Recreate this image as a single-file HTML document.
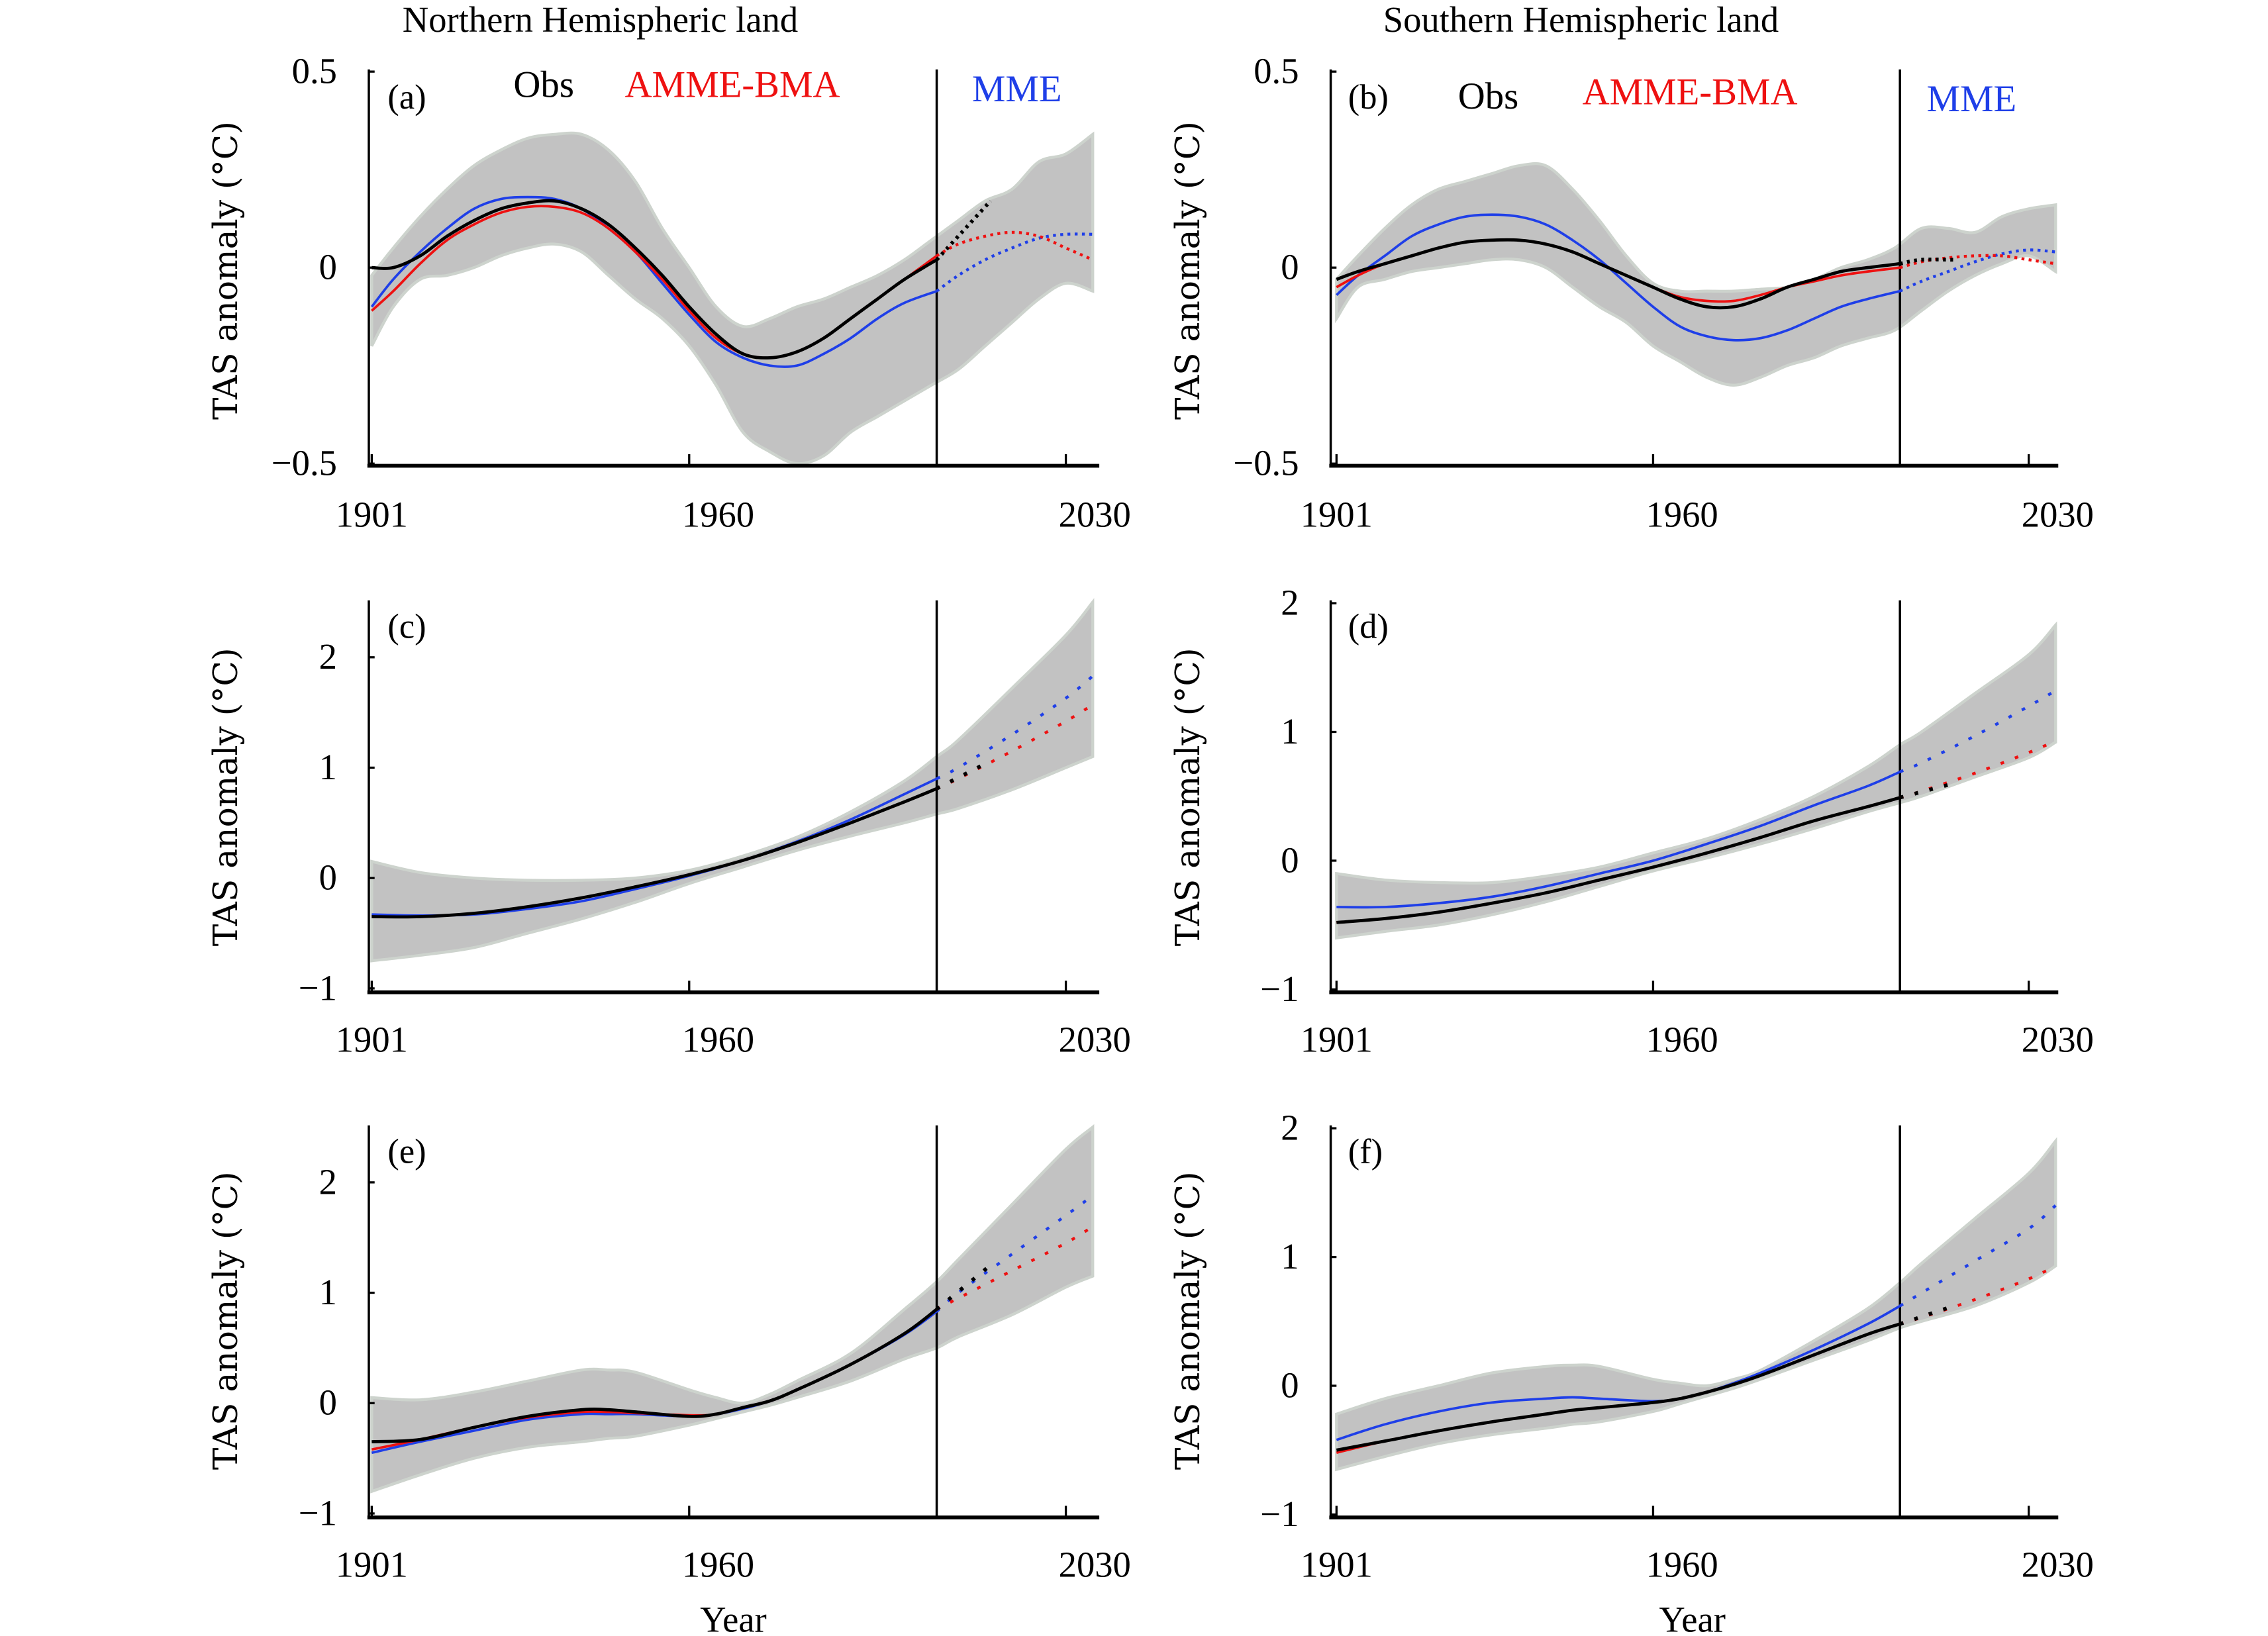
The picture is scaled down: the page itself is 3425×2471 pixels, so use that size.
<!DOCTYPE html>
<html><head><meta charset="utf-8"><style>
html,body{margin:0;padding:0;background:#fff}
svg{display:block}
text{font-family:"Liberation Serif","DejaVu Serif",serif}
</style></head><body>
<svg id="fig" xmlns="http://www.w3.org/2000/svg" width="3425" height="2471" viewBox="0 0 1568 1131" preserveAspectRatio="none">
<text x="415" y="22" font-size="25" text-anchor="middle">Northern Hemispheric land</text>
<text x="1093" y="22" font-size="25" text-anchor="middle">Southern Hemispheric land</text>
<text x="507" y="1128" font-size="25" text-anchor="middle">Year</text>
<text x="1170" y="1128" font-size="25" text-anchor="middle">Year</text>
<g id="plots"></g>
</svg>
<script>
// ---- data (panel a) ----
const aYears=[1901,1905,1910,1915,1920,1925,1930,1935,1940,1945,1950,1955,1960,1965,1970,1975,1980,1985,1990,1995,2000,2006,2010,2015,2020,2025,2030,2035];
const aObsYears=[1901,1905,1910,1915,1920,1925,1930,1935,1940,1945,1950,1955,1960,1965,1970,1975,1980,1985,1990,1995,2000,2006,2010,2016];
const aObs=[0,0,0.03,0.08,0.12,0.15,0.165,0.17,0.15,0.11,0.05,-0.02,-0.1,-0.17,-0.22,-0.23,-0.215,-0.18,-0.13,-0.08,-0.03,0.02,0.08,0.17];
const aBma=[-0.11,-0.06,0.01,0.07,0.11,0.14,0.155,0.155,0.14,0.1,0.04,-0.03,-0.11,-0.18,-0.22,-0.23,-0.215,-0.18,-0.13,-0.08,-0.03,0.03,0.06,0.08,0.09,0.08,0.05,0.02];
const aMme=[-0.1,-0.03,0.04,0.1,0.15,0.175,0.18,0.175,0.15,0.1,0.04,-0.04,-0.12,-0.19,-0.23,-0.25,-0.25,-0.22,-0.18,-0.13,-0.09,-0.06,-0.02,0.02,0.05,0.075,0.085,0.085];
const aBandYears=[1901,1905,1910,1915,1920,1925,1930,1935,1940,1945,1950,1955,1960,1965,1970,1975,1980,1985,1990,1995,2000,2005,2010,2015,2020,2025,2030,2035];
const aUpper=[-0.02,0.05,0.13,0.2,0.26,0.3,0.33,0.34,0.34,0.3,0.22,0.1,0,-0.1,-0.15,-0.13,-0.1,-0.08,-0.05,-0.02,0.02,0.07,0.12,0.17,0.2,0.27,0.29,0.34];
const aLower=[-0.2,-0.1,-0.03,-0.02,0,0.03,0.05,0.06,0.04,-0.02,-0.08,-0.13,-0.2,-0.3,-0.42,-0.47,-0.5,-0.48,-0.42,-0.38,-0.34,-0.3,-0.26,-0.2,-0.14,-0.08,-0.04,-0.06];
// ---- data (panel b) ----
const bObs=[-0.03,-0.01,0.01,0.03,0.05,0.065,0.07,0.07,0.06,0.04,0.01,-0.02,-0.05,-0.08,-0.1,-0.1,-0.08,-0.05,-0.03,-0.01,0,0.01,0.02,0.02];
const bBma=[-0.05,-0.02,0.01,0.03,0.05,0.065,0.07,0.07,0.06,0.04,0.01,-0.02,-0.05,-0.075,-0.085,-0.085,-0.07,-0.05,-0.035,-0.02,-0.01,0,0.015,0.025,0.03,0.03,0.02,0.01];
const bMme=[-0.07,-0.02,0.03,0.08,0.11,0.13,0.135,0.13,0.11,0.07,0.02,-0.04,-0.1,-0.15,-0.175,-0.185,-0.18,-0.16,-0.13,-0.1,-0.08,-0.06,-0.035,-0.01,0.015,0.035,0.045,0.04];
const bUpper=[-0.03,0.03,0.1,0.16,0.2,0.22,0.24,0.26,0.26,0.2,0.12,0.03,-0.04,-0.06,-0.06,-0.06,-0.055,-0.05,-0.03,0,0.02,0.05,0.1,0.1,0.09,0.13,0.15,0.16];
const bLower=[-0.13,-0.05,-0.03,-0.01,0,0.01,0.02,0.02,0,-0.05,-0.1,-0.14,-0.2,-0.24,-0.28,-0.3,-0.28,-0.25,-0.23,-0.2,-0.18,-0.16,-0.11,-0.06,-0.02,0.01,0.03,-0.01];
// ---- data (panels c-f) ----
const cYears=[1901,1910,1920,1930,1940,1950,1960,1970,1980,1990,2000,2006,2010,2020,2030,2035];
const cObsYears=[1901,1910,1920,1930,1940,1950,1960,1970,1980,1990,2000,2006,2016];
const cObs=[-0.35,-0.35,-0.32,-0.26,-0.18,-0.08,0.03,0.16,0.32,0.5,0.69,0.81,1.06];
const cBma=[-0.35,-0.35,-0.32,-0.26,-0.18,-0.08,0.03,0.16,0.32,0.5,0.69,0.81,0.9,1.15,1.42,1.57];
const cMme=[-0.33,-0.34,-0.33,-0.28,-0.21,-0.1,0.02,0.16,0.33,0.53,0.76,0.9,1.0,1.3,1.63,1.83];
const cUpper=[0.15,0.05,0,-0.02,-0.02,0,0.07,0.2,0.37,0.6,0.88,1.1,1.25,1.72,2.2,2.5];
const cLower=[-0.75,-0.7,-0.63,-0.5,-0.37,-0.22,-0.05,0.1,0.25,0.38,0.5,0.58,0.63,0.8,1.0,1.1];
const dObs=[-0.48,-0.45,-0.4,-0.33,-0.25,-0.15,-0.05,0.06,0.18,0.31,0.42,0.49,0.6];
const dBma=[-0.48,-0.45,-0.4,-0.33,-0.25,-0.15,-0.05,0.06,0.18,0.31,0.42,0.49,0.54,0.68,0.84,0.93];
const dMme=[-0.36,-0.36,-0.33,-0.28,-0.2,-0.1,0,0.13,0.27,0.43,0.58,0.69,0.76,0.97,1.2,1.32];
const dUpper=[-0.1,-0.15,-0.17,-0.17,-0.12,-0.05,0.06,0.17,0.32,0.5,0.73,0.9,1.0,1.3,1.6,1.83];
const dLower=[-0.6,-0.55,-0.5,-0.42,-0.32,-0.2,-0.08,0.02,0.13,0.25,0.38,0.45,0.5,0.65,0.8,0.92];
const eYears=[1901,1910,1920,1930,1940,1945,1950,1960,1965,1970,1975,1980,1990,2000,2006,2010,2020,2030,2035];
const eObsYears=[1901,1910,1920,1930,1940,1945,1950,1960,1965,1970,1975,1980,1990,2000,2006,2016];
const eObs=[-0.35,-0.33,-0.22,-0.12,-0.06,-0.06,-0.08,-0.12,-0.1,-0.04,0.02,0.12,0.35,0.63,0.85,1.25];
const eBma=[-0.42,-0.33,-0.22,-0.13,-0.08,-0.08,-0.09,-0.11,-0.1,-0.04,0.02,0.12,0.35,0.63,0.85,0.95,1.2,1.45,1.6];
const eMme=[-0.45,-0.35,-0.25,-0.15,-0.1,-0.1,-0.1,-0.12,-0.1,-0.05,0.02,0.12,0.35,0.62,0.83,1.0,1.35,1.7,1.88];
const eUpper=[0.05,0.03,0.1,0.2,0.3,0.3,0.28,0.12,0.05,0,0.08,0.2,0.45,0.85,1.1,1.3,1.8,2.3,2.5];
const eLower=[-0.8,-0.65,-0.5,-0.4,-0.35,-0.32,-0.3,-0.2,-0.14,-0.08,-0.02,0.05,0.2,0.4,0.5,0.6,0.8,1.05,1.15];
const fObs=[-0.5,-0.43,-0.35,-0.28,-0.22,-0.19,-0.17,-0.13,-0.1,-0.05,0.01,0.08,0.24,0.4,0.48,0.62];
const fBma=[-0.52,-0.43,-0.35,-0.28,-0.22,-0.19,-0.17,-0.13,-0.1,-0.05,0.01,0.08,0.24,0.4,0.48,0.53,0.67,0.83,0.93];
const fMme=[-0.42,-0.3,-0.2,-0.13,-0.1,-0.09,-0.1,-0.12,-0.1,-0.05,0.02,0.1,0.28,0.48,0.62,0.72,0.97,1.22,1.4];
const fUpper=[-0.22,-0.1,0,0.1,0.15,0.16,0.15,0.05,0.02,0,0.05,0.12,0.35,0.6,0.8,0.95,1.3,1.65,1.9];
const fLower=[-0.65,-0.55,-0.45,-0.38,-0.33,-0.3,-0.28,-0.2,-0.14,-0.08,-0.02,0.05,0.2,0.35,0.45,0.5,0.62,0.8,0.93];
const xTickYears=[1901,1960,2030];
const abTicks=[0.5,0,-0.5];const abTickLabels=["0.5","0","\u22120.5"];
const cdTicks=[2,1,0,-1];const cdTickLabels=["2","1","0","\u22121"];
const splitYear=2006;

const NS="http://www.w3.org/2000/svg";
const root=document.getElementById('plots');
function mk(tag,attrs,parent){const e=document.createElementNS(NS,tag);for(const k in attrs)e.setAttribute(k,attrs[k]);(parent||root).appendChild(e);return e;}
function smooth(pts,start){if(!pts.length)return '';let d=(start||'M')+pts[0][0].toFixed(2)+','+pts[0][1].toFixed(2);
 for(let i=0;i<pts.length-1;i++){const p0=pts[Math.max(0,i-1)],p1=pts[i],p2=pts[i+1],p3=pts[Math.min(pts.length-1,i+2)];
  const c1=[p1[0]+(p2[0]-p0[0])/6,p1[1]+(p2[1]-p0[1])/6],c2=[p2[0]-(p3[0]-p1[0])/6,p2[1]-(p3[1]-p1[1])/6];
  d+=' C'+c1.map(v=>v.toFixed(2))+' '+c2.map(v=>v.toFixed(2))+' '+p2[0].toFixed(2)+','+p2[1].toFixed(2);}
 return d;}

const panels=[
 {id:'a',L:255,R:760,x0:257,ppy:3.72,top:48,bot:322,y0:185,ppu:271,ticks:abTicks,tl:abTickLabels,yr:aYears,oy:aObsYears,obs:aObs,bma:aBma,mme:aMme,by:aBandYears,up:aUpper,lo:aLower,xl:355,yl:187,lab:[268,75],legend:[[355,67],[432,67],[672,70]]},
 {id:'b',L:920,R:1423,x0:924,ppy:3.71,top:48,bot:322,y0:185,ppu:271,ticks:abTicks,tl:abTickLabels,yr:aYears,oy:aObsYears,obs:bObs,bma:bBma,mme:bMme,by:aBandYears,up:bUpper,lo:bLower,xl:355,yl:187,lab:[932,75],legend:[[1008,75],[1094,72],[1332,77]]},
 {id:'c',L:255,R:760,x0:257,ppy:3.72,top:415,bot:686,y0:607,ppu:76.3,ticks:cdTicks,tl:cdTickLabels,yr:cYears,oy:cObsYears,obs:cObs,bma:cBma,mme:cMme,by:cYears,up:cUpper,lo:cLower,xl:718,yl:551,lab:[268,441]},
 {id:'d',L:920,R:1423,x0:924,ppy:3.71,top:415,bot:686,y0:595,ppu:89,ticks:cdTicks,tl:cdTickLabels,yr:cYears,oy:cObsYears,obs:dObs,bma:dBma,mme:dMme,by:cYears,up:dUpper,lo:dLower,xl:718,yl:551,lab:[932,441]},
 {id:'e',L:255,R:760,x0:257,ppy:3.72,top:778,bot:1049,y0:970,ppu:76.3,ticks:cdTicks,tl:cdTickLabels,yr:eYears,oy:eObsYears,obs:eObs,bma:eBma,mme:eMme,by:eYears,up:eUpper,lo:eLower,xl:1081,yl:913,lab:[268,804]},
 {id:'f',L:920,R:1423,x0:924,ppy:3.71,top:778,bot:1049,y0:958,ppu:89,ticks:cdTicks,tl:cdTickLabels,yr:eYears,oy:eObsYears,obs:fObs,bma:fBma,mme:fMme,by:eYears,up:fUpper,lo:fLower,xl:1081,yl:913,lab:[932,804]}
];

panels.forEach(p=>{
 const xs=y=>p.x0+(y-1901)*p.ppy, ys=v=>p.y0-v*p.ppu;
 const g=mk('g',{});
 
 
 const up=p.by.map((y,i)=>[xs(y),ys(p.up[i])]);
 const lo=p.by.map((y,i)=>[xs(y),ys(p.lo[i])]).reverse();
 const band=mk('path',{d:smooth(up)+' '+smooth(lo,'L')+' Z',fill:'#c2c2c2',stroke:'#cdd3cd','stroke-width':2},g);
 
 
 const vl=mk('line',{x1:xs(splitYear),x2:xs(splitYear),y1:p.top,y2:p.bot,stroke:'#000','stroke-width':1.6},g);
 
 
 const series=[['mme',p.yr,p.mme,'#1f3fe8'],['bma',p.yr,p.bma,'#ee1111'],['obs',p.oy,p.obs,'#000']];
 series.forEach(([nm,yrs,vals,col])=>{
  const pts=yrs.map((y,i)=>[y,vals[i]]);
  const solid=pts.filter(q=>q[0]<=splitYear).map(q=>[xs(q[0]),ys(q[1])]);
  const dot=pts.filter(q=>q[0]>=splitYear).map(q=>[xs(q[0]),ys(q[1])]);
  const s=mk('path',{d:smooth(solid),fill:'none',stroke:col,'stroke-width':nm==='obs'?2.2:1.7},g);
  
  
  const d=mk('path',{d:smooth(dot),fill:'none',stroke:col,'stroke-width':nm==='obs'?2.6:2,'stroke-dasharray':p.id<'c'?'2 3':'2.5 8'},g);
  
  
 });
 const ya=mk('line',{x1:p.L,x2:p.L,y1:p.top,y2:p.bot,stroke:'#000','stroke-width':1.6},g);
 
 
 const xa=mk('line',{x1:p.L-1,x2:p.R,y1:p.bot,y2:p.bot,stroke:'#000','stroke-width':2.6},g);
 
 
 xTickYears.forEach(y=>{
  const t=mk('line',{x1:xs(y),x2:xs(y),y1:p.bot,y2:p.bot-8,stroke:'#000','stroke-width':1.5},g);
  
  
  const off=y===1901?0:20;
  const tx=mk('text',{x:xs(y)+off,y:p.xl+9,'font-size':25,'text-anchor':'middle'},g);
  tx.textContent=String(y);
  
  
 });
 p.ticks.forEach((v,i)=>{
  const t=mk('line',{x1:p.L,x2:p.L+4,y1:ys(v),y2:ys(v),stroke:'#000','stroke-width':1.5},g);
  
  
  const tx=mk('text',{x:p.L-22,y:ys(v)+8,'font-size':25,'text-anchor':'end'},g);
  tx.textContent=p.tl[i];
  
  
 });
 const yt=mk('text',{x:0,y:0,'font-size':23,'text-anchor':'middle',transform:`translate(${p.L-91},${p.yl}) rotate(-90)`,style:'font-family:"DejaVu Serif",serif'},g);
 yt.textContent='TAS anomaly (\u00B0C)';
 
 
 const lb=mk('text',{x:p.lab[0],y:p.lab[1],'font-size':24},g);
 lb.textContent='('+p.id+')';
 
 
 if(p.legend){
  [['Obs','#000'],['AMME-BMA','#ee1111'],['MME','#1f3fe8']].forEach(([t,c],i)=>{
   const e=mk('text',{x:p.legend[i][0],y:p.legend[i][1],'font-size':26,fill:c},g);
   e.textContent=t;
   
   
  });
 }
});
</script>
</body></html>
